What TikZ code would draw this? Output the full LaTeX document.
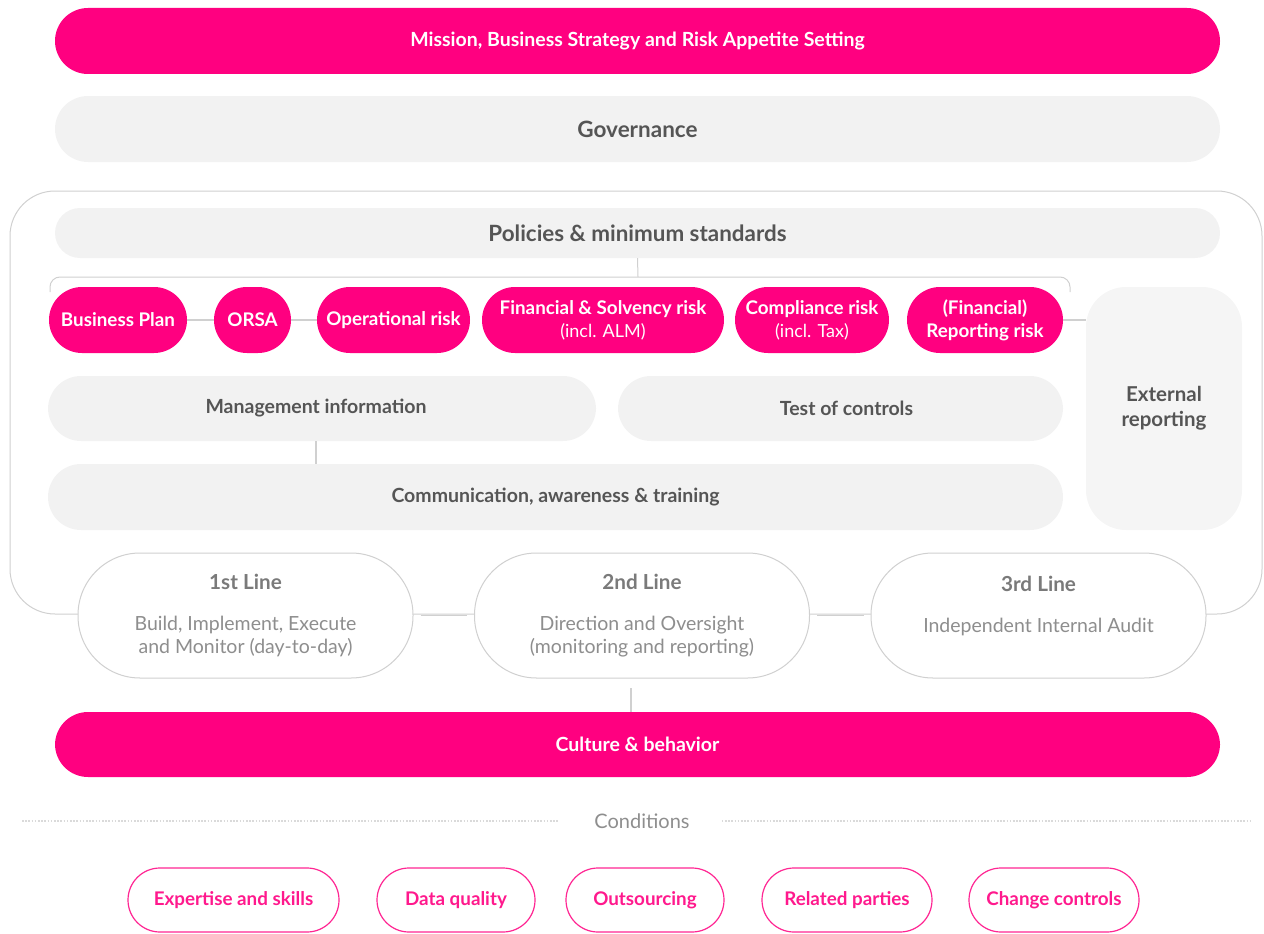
\documentclass[tikz,border=0pt]{standalone}
\usepackage{fontspec}
\setmainfont{Lato}
\usetikzlibrary{positioning}
\definecolor{pinkc}{HTML}{FF0080}
\definecolor{grayfill}{HTML}{F2F2F2}
\definecolor{extfill}{HTML}{F5F5F5}
\definecolor{darktext}{HTML}{555555}
\definecolor{midtext}{HTML}{7A7A7A}
\definecolor{lighttext}{HTML}{8E8E8E}
\definecolor{linegray}{HTML}{D0D0D0}
\tikzset{
  every node/.style={font=\fontsize{19.5}{23}\selectfont\bfseries, align=center, inner sep=0pt},
  pinkbar/.style={fill=pinkc, text=white, rounded corners=33pt, minimum height=66pt},
  graybar/.style={fill=grayfill, text=darktext, rounded corners=33pt, minimum height=66pt},
  pinkpill/.style={fill=pinkc, text=white, rounded corners=33pt, minimum height=66pt, font=\fontsize{18.8}{23}\selectfont\bfseries},
  linebox/.style={draw=linegray, line width=1pt, fill=white, rounded corners=62pt, minimum height=125pt, minimum width=335pt},
  condbox/.style={draw=pinkc!85, line width=1.2pt, fill=white, text=pinkc!90, rounded corners=32pt, minimum height=64pt, font=\fontsize{18.8}{23}\selectfont\bfseries},
  conn/.style={draw=linegray, line width=1.2pt},
}
\begin{document}
\begin{tikzpicture}[x=1pt,y=-1pt]
\useasboundingbox (0,0) rectangle (1264,934);
% big outline
\draw[linegray, line width=1pt, rounded corners=45pt] (10,400) -- (10,191) -- (1262,191) -- (1262,614) -- (10,614) -- cycle;
\node[pinkbar, minimum width=1165pt] (mission) at (637.5,41) {Mission, Business Strategy and Risk Appetite Setting};
\node[graybar, minimum width=1165pt, font=\fontsize{22.5}{26}\selectfont\bfseries] (gov) at (637.5,129) {Governance};
\node[graybar, minimum width=1165pt, minimum height=50pt, rounded corners=25pt, font=\fontsize{22.4}{26}\selectfont\bfseries] (pol) at (637.5,233) {Policies \& minimum standards};
% bracket
\coordinate (brL) at (50,292);
\coordinate (brR) at (1070,292);
\draw[conn, line width=1pt, rounded corners=10pt] (brL) -- (50,277) -- (1070,277) -- (brR);
\draw[conn, line width=1pt] (pol.south) -- (638,277);
% external reporting
\node[fill=extfill, text=darktext, rounded corners=40pt, minimum width=156pt, minimum height=243pt, font=\fontsize{20.5}{25}\selectfont\bfseries] (ext) at (1164,408.5) {External\\reporting};
% pink row
\node[pinkpill, minimum width=138pt] (bp) at (118,320) {Business Plan};
\node[pinkpill, minimum width=77pt] (orsa) at (252.5,320) {ORSA};
\node[pinkpill, minimum width=153pt] (opr) at (393.5,320) {Operational risk};
\node[pinkpill, minimum width=242pt] (fin) at (603,320) {Financial \& Solvency risk\\{\mdseries\fontsize{18}{23}\selectfont (incl. ALM)}};
\node[pinkpill, minimum width=154pt] (comp) at (812,320) {Compliance risk\\{\mdseries\fontsize{18}{23}\selectfont (incl. Tax)}};
\node[pinkpill, minimum width=156pt] (rep) at (985,320) {(Financial)\\Reporting risk};
\draw[conn] (bp) -- (orsa);
\draw[conn] (orsa) -- (opr);
\draw[conn] (rep.east) -- (rep.east -| ext.west);
% middle rows
\node[graybar, minimum width=548pt, minimum height=65pt] (mi) at (322,408.5) {\hspace*{-12pt}Management information};
\node[graybar, minimum width=445pt, minimum height=65pt] (toc) at (840.5,408.5) {\hspace*{12pt}Test of controls};
\node[graybar, minimum width=1015pt] (comm) at (555.5,497) {Communication, awareness \& training};
\draw[conn] (mi.south -| 316,0) -- (comm.north -| 316,0);
% lines of defence
\node[linebox] (l1) at (245.5,615.5) {{\fontsize{20.7}{24}\selectfont\color{midtext}1st Line}\\[18pt]{\fontsize{19.5}{23}\selectfont\mdseries\color{lighttext}Build, Implement, Execute}\\{\fontsize{19.5}{23}\selectfont\mdseries\color{lighttext}and Monitor (day-to-day)}};
\node[linebox] (l2) at (642,615.5) {{\fontsize{20.7}{24}\selectfont\color{midtext}2nd Line}\\[18pt]{\fontsize{19.5}{23}\selectfont\mdseries\color{lighttext}Direction and Oversight}\\{\fontsize{19.5}{23}\selectfont\mdseries\color{lighttext}(monitoring and reporting)}};
\node[linebox] (l3) at (1038.5,615.5) {{\fontsize{20.7}{24}\selectfont\color{midtext}3rd Line}\\[18pt]{\fontsize{19.5}{23}\selectfont\mdseries\color{lighttext}Independent Internal Audit}\\{\fontsize{19.5}{23}\selectfont\phantom{X}}};
\draw[conn] ([xshift=7pt]l1.east) -- ([xshift=-7pt]l2.west);
\draw[conn] ([xshift=7pt]l2.east) -- ([xshift=-7pt]l3.west);
% culture
\node[pinkbar, minimum width=1165pt, minimum height=65pt] (cult) at (637.5,744.5) {Culture \& behavior};
\coordinate (l2b) at (631,688);
\draw[conn] (l2b) -- (cult.north -| l2b);
% conditions
\node[font=\fontsize{20}{24}\selectfont, text=lighttext] (condt) at (642,821) {Conditions};
\coordinate (dl) at (22,821);
\coordinate (dr) at (1252,821);
\draw[linegray!80, line width=1.8pt, dash pattern=on 1.6pt off 1.6pt] (dl) -- ([xshift=-35pt]condt.west);
\draw[linegray!80, line width=1.8pt, dash pattern=on 1.6pt off 1.6pt] ([xshift=32pt]condt.east) -- (dr);
\node[condbox, minimum width=211pt] (c1) at (233.5,900) {Expertise and skills};
\node[condbox, minimum width=158pt] (c2) at (456,900) {Data quality};
\node[condbox, minimum width=158pt] (c3) at (645,900) {Outsourcing};
\node[condbox, minimum width=170pt] (c4) at (847,900) {Related parties};
\node[condbox, minimum width=170pt] (c5) at (1054,900) {Change controls};
\end{tikzpicture}
\end{document}
